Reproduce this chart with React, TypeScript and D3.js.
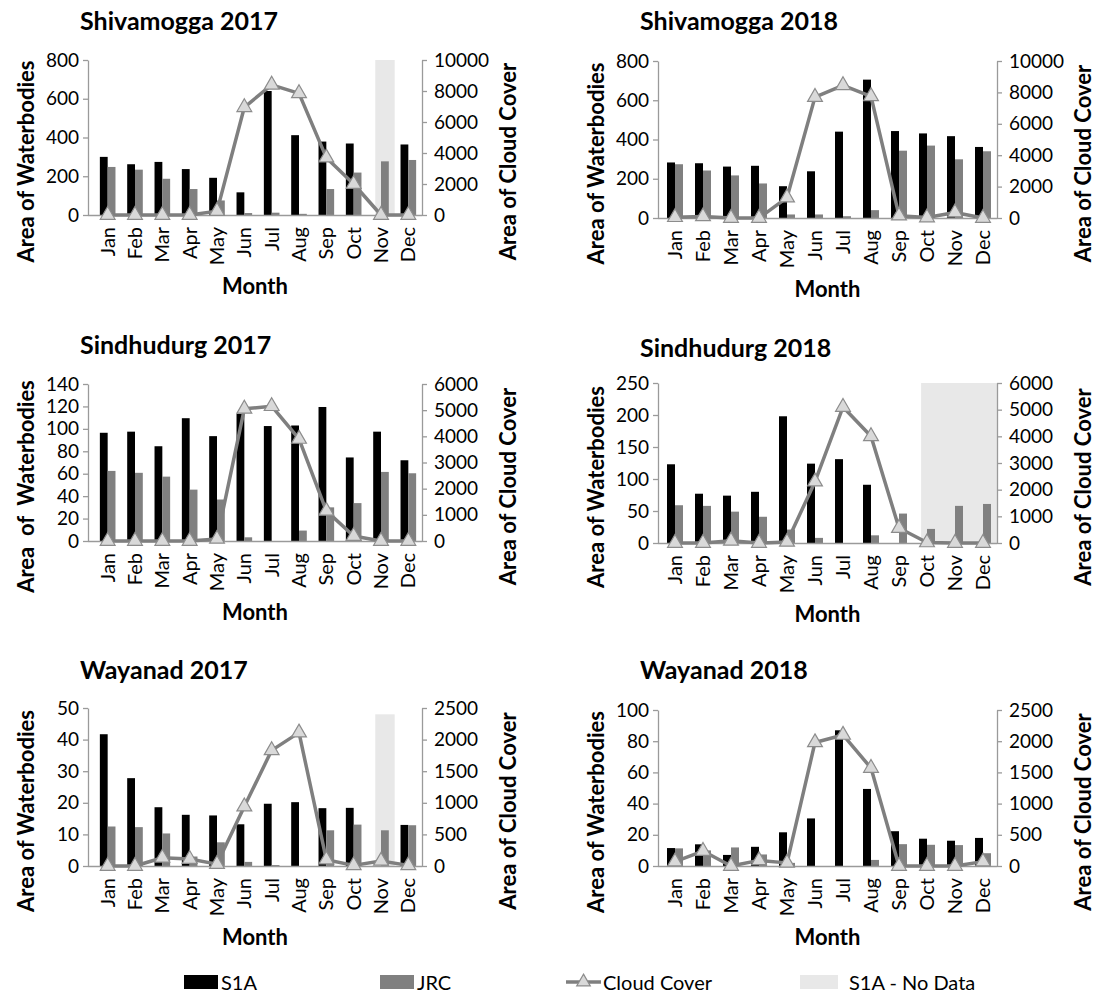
import React, { useEffect, useRef } from "react";
import * as d3 from "d3";

const MONTHS = ["Jan", "Feb", "Mar", "Apr", "May", "Jun", "Jul", "Aug", "Sep", "Oct", "Nov", "Dec"];

// Shivamogga 2017
const SHIV17_S1A = [300, 262, 274, 237, 192, 117, 640, 412, 379, 369, null, 364];
const SHIV17_JRC = [248, 234, 187, 134, 75, 10, 12, 6, 134, 219, 277, 284];
const SHIV17_CLOUD = [0, 0, 0, 0, 250, 6950, 8400, 7850, 3700, 2000, 0, 0];
const SHIV17_NODATA = ["Nov"];

// Shivamogga 2018
const SHIV18_S1A = [283, 279, 262, 266, 162, 238, 440, 705, 443, 431, 417, 362];
const SHIV18_JRC = [274, 242, 217, 176, 18, 18, 9, 40, 343, 369, 299, 340];
const SHIV18_CLOUD = [50, 100, 0, 0, 1300, 7700, 8450, 7750, 150, 30, 350, 0];

// Sindhudurg 2017
const SIND17_S1A = [96.5, 97.5, 84.5, 109.5, 93.5, 113.5, 102.5, 103, 119.5, 74.5, 97.5, 72];
const SIND17_JRC = [62.5, 60.8, 57.4, 45.8, 37, 3.3, 0, 9.3, 30, 33.8, 61.6, 60.4];
const SIND17_CLOUD = [0, 0, 0, 0, 80, 5050, 5150, 3900, 1150, 190, 0, 0];

// Sindhudurg 2018
const SIND18_S1A = [123, 77, 74, 80, 198, 124, 131, 91, null, null, null, null];
const SIND18_JRC = [59, 58, 49, 41, 21, 8, 0, 12, 46, 22, 58, 61];
const SIND18_CLOUD = [0, 0, 80, 0, 40, 2300, 5100, 4000, 560, 20, 0, 0];
const SIND18_NODATA = ["Oct", "Nov", "Dec"];

// Wayanad 2017
const WAY17_S1A = [41.7, 27.8, 18.6, 16.2, 16, 13.2, 19.7, 20.2, 18.3, 18.4, null, 13];
const WAY17_JRC = [12.5, 12.3, 10.3, 3, 7.5, 1.3, 0.3, 0, 11.3, 13.1, 11.3, 12.9];
const WAY17_CLOUD = [0, 0, 130, 110, 30, 940, 1830, 2110, 100, 10, 80, 10];
const WAY17_NODATA = ["Nov"];

// Wayanad 2018
const WAY18_S1A = [11.5, 13.9, 7.1, 12.3, 21.6, 30.5, 87, 49.4, 22.3, 17.5, 16.2, 18];
const WAY18_JRC = [11.3, 10, 11.9, 7.4, 2, 0, 0, 3.9, 14, 13.6, 13.4, 8.2];
const WAY18_CLOUD = [70, 240, 0, 90, 50, 1980, 2100, 1570, 0, 0, 0, 70];

const SHIV_LEFT_TICKS = [0, 200, 400, 600, 800];
const SHIV_RIGHT_TICKS = [0, 2000, 4000, 6000, 8000, 10000];
const SIND17_LEFT_TICKS = [0, 20, 40, 60, 80, 100, 120, 140];
const SIND18_LEFT_TICKS = [0, 50, 100, 150, 200, 250];
const SIND_RIGHT_TICKS = [0, 1000, 2000, 3000, 4000, 5000, 6000];
const WAY17_LEFT_TICKS = [0, 10, 20, 30, 40, 50];
const WAY18_LEFT_TICKS = [0, 20, 40, 60, 80, 100];
const WAY_RIGHT_TICKS = [0, 500, 1000, 1500, 2000, 2500];

const FONT = "Lato, 'Open Sans', sans-serif";
const AXIS_GREY = "#9a9a9a";

const COLS = [
  { axisL: 88, axisR: 422, padL: 6, titleX: 80 },
  { axisL: 658, axisR: 997, padL: 3, titleX: 640 },
];

const PANELS = [
  { title: "Shivamogga 2017", s1a: SHIV17_S1A, jrc: SHIV17_JRC, cloud: SHIV17_CLOUD, left: SHIV_LEFT_TICKS, right: SHIV_RIGHT_TICKS, noData: SHIV17_NODATA, noDataTop: 10000, yTitle: "Area of Waterbodies", col: 0, top: 60, bottom: 215, titleY: 20 },
  { title: "Shivamogga 2018", s1a: SHIV18_S1A, jrc: SHIV18_JRC, cloud: SHIV18_CLOUD, left: SHIV_LEFT_TICKS, right: SHIV_RIGHT_TICKS, noData: [], noDataTop: 0, yTitle: "Area of Waterbodies", col: 1, top: 61, bottom: 218, titleY: 20 },
  { title: "Sindhudurg 2017", s1a: SIND17_S1A, jrc: SIND17_JRC, cloud: SIND17_CLOUD, left: SIND17_LEFT_TICKS, right: SIND_RIGHT_TICKS, noData: [], noDataTop: 0, yTitle: "Area  of  Waterbodies", col: 0, top: 384, bottom: 541, titleY: 344 },
  { title: "Sindhudurg 2018", s1a: SIND18_S1A, jrc: SIND18_JRC, cloud: SIND18_CLOUD, left: SIND18_LEFT_TICKS, right: SIND_RIGHT_TICKS, noData: SIND18_NODATA, noDataTop: 6000, yTitle: "Area of Waterbodies", col: 1, top: 383, bottom: 543, titleY: 347 },
  { title: "Wayanad 2017", s1a: WAY17_S1A, jrc: WAY17_JRC, cloud: WAY17_CLOUD, left: WAY17_LEFT_TICKS, right: WAY_RIGHT_TICKS, noData: WAY17_NODATA, noDataTop: 2400, yTitle: "Area of Waterbodies", col: 0, top: 708, bottom: 866, titleY: 669 },
  { title: "Wayanad 2018", s1a: WAY18_S1A, jrc: WAY18_JRC, cloud: WAY18_CLOUD, left: WAY18_LEFT_TICKS, right: WAY_RIGHT_TICKS, noData: [], noDataTop: 0, yTitle: "Area of Waterbodies", col: 1, top: 710, bottom: 866, titleY: 669 },
];

function styleAxis(ax: any) {
  ax.select(".domain").attr("stroke", AXIS_GREY).attr("stroke-width", 1.3);
  ax.selectAll(".tick line").attr("stroke", AXIS_GREY).attr("stroke-width", 1.3);
  ax.selectAll(".tick text").attr("fill", "#000").style("font-size", "19px").style("font-family", FONT);
}

function drawPanel(svg: any, p: any) {
  const col = COLS[p.col];
  const g = svg.append("g");

  const x = d3.scaleBand<string>().domain(MONTHS).range([col.axisL + col.padL, col.axisR]);
  const step = x.bandwidth();
  const bw = step / 3.5;
  const cx = (m: string) => (x(m) as number) + step / 2;

  const yL = d3.scaleLinear().domain([0, d3.max(p.left) as number]).range([p.bottom, p.top]);
  const yR = d3.scaleLinear().domain([0, d3.max(p.right) as number]).range([p.bottom, p.top]);

  // S1A - No Data shading
  if (p.noData.length) {
    const x0 = cx(p.noData[0]) - 0.21 * step;
    const x1 = cx(p.noData[p.noData.length - 1]) + 0.5 * step;
    g.append("rect")
      .attr("x", x0)
      .attr("width", x1 - x0)
      .attr("y", yR(p.noDataTop))
      .attr("height", p.bottom - yR(p.noDataTop))
      .attr("fill", "#e8e8e8");
  }

  const rows = MONTHS.map((m, i) => ({ m, s1a: p.s1a[i], jrc: p.jrc[i] }));

  g.selectAll(".s1a")
    .data(rows.filter((d) => d.s1a != null))
    .join("rect")
    .attr("x", (d: any) => cx(d.m) - bw)
    .attr("width", bw)
    .attr("y", (d: any) => yL(d.s1a))
    .attr("height", (d: any) => p.bottom - yL(d.s1a))
    .attr("fill", "#000");

  g.selectAll(".jrc")
    .data(rows)
    .join("rect")
    .attr("x", (d: any) => cx(d.m))
    .attr("width", bw)
    .attr("y", (d: any) => yL(d.jrc))
    .attr("height", (d: any) => p.bottom - yL(d.jrc))
    .attr("fill", "#808080");

  // axes
  const axL = g.append("g")
    .attr("transform", `translate(${col.axisL},0)`)
    .call(d3.axisLeft(yL).tickValues(p.left).tickFormat(d3.format("d")).tickSize(5).tickSizeOuter(0).tickPadding(4));
  styleAxis(axL);

  const axR = g.append("g")
    .attr("transform", `translate(${col.axisR},0)`)
    .call(d3.axisRight(yR).tickValues(p.right).tickFormat(d3.format("d")).tickSize(5).tickSizeOuter(0).tickPadding(7));
  styleAxis(axR);

  g.append("line")
    .attr("x1", col.axisL)
    .attr("x2", col.axisR)
    .attr("y1", p.bottom + 0.5)
    .attr("y2", p.bottom + 0.5)
    .attr("stroke", AXIS_GREY)
    .attr("stroke-width", 1.3);

  g.selectAll(".mlab")
    .data(MONTHS)
    .join("text")
    .attr("transform", (m: string) => `translate(${cx(m)},${p.bottom + 12}) rotate(-90)`)
    .attr("text-anchor", "end")
    .attr("dy", "0.35em")
    .style("font-family", FONT)
    .style("font-size", "20px")
    .text((m: string) => m);

  // cloud cover line
  const line = d3.line<number>()
    .x((d, i) => cx(MONTHS[i]))
    .y((d) => yR(d));

  g.append("path")
    .datum(p.cloud)
    .attr("d", line)
    .attr("fill", "none")
    .attr("stroke", "#7f7f7f")
    .attr("stroke-width", 3.5)
    .attr("stroke-linejoin", "round");

  g.selectAll(".tri")
    .data(p.cloud)
    .join("path")
    .attr("d", d3.symbol(d3.symbolTriangle, 95))
    .attr("transform", (d: number, i: number) => `translate(${cx(MONTHS[i])},${yR(d)})`)
    .attr("fill", "#d9d9d9")
    .attr("stroke", "#8c8c8c")
    .attr("stroke-width", 1.2);

  // titles
  g.append("text")
    .attr("x", col.titleX)
    .attr("y", p.titleY)
    .attr("dominant-baseline", "central")
    .style("font-family", FONT)
    .style("font-size", "25px")
    .style("font-weight", "bold")
    .text(p.title);

  const midY = (p.top + p.bottom) / 2 + 24;
  g.append("text")
    .attr("transform", `translate(${col.axisL - 63},${midY}) rotate(-90)`)
    .attr("text-anchor", "middle")
    .attr("dominant-baseline", "central")
    .style("white-space", "pre")
    .style("font-family", FONT)
    .style("font-size", "22px")
    .style("font-weight", "bold")
    .text(p.yTitle);

  g.append("text")
    .attr("transform", `translate(${col.axisR + 85},${midY}) rotate(-90)`)
    .attr("text-anchor", "middle")
    .attr("dominant-baseline", "central")
    .style("font-family", FONT)
    .style("font-size", "22px")
    .style("font-weight", "bold")
    .text("Area of Cloud Cover");

  g.append("text")
    .attr("x", (col.axisL + col.axisR) / 2)
    .attr("y", p.bottom + 70)
    .attr("text-anchor", "middle")
    .attr("dominant-baseline", "central")
    .style("font-family", FONT)
    .style("font-size", "22px")
    .style("font-weight", "bold")
    .text("Month");
}

function drawLegend(svg: any) {
  const g = svg.append("g").style("font-family", FONT).style("font-size", "20px");
  const y = 982;

  g.append("rect").attr("x", 184).attr("y", y - 7).attr("width", 34).attr("height", 14).attr("fill", "#000");
  g.append("text").attr("x", 221).attr("y", y).attr("dominant-baseline", "central").text("S1A");

  g.append("rect").attr("x", 380).attr("y", y - 7).attr("width", 34).attr("height", 14).attr("fill", "#808080");
  g.append("text").attr("x", 417).attr("y", y).attr("dominant-baseline", "central").text("JRC");

  g.append("line").attr("x1", 566).attr("x2", 601).attr("y1", y).attr("y2", y)
    .attr("stroke", "#7f7f7f").attr("stroke-width", 3.5);
  g.append("path").attr("d", d3.symbol(d3.symbolTriangle, 80))
    .attr("transform", `translate(583.5,${y})`)
    .attr("fill", "#d9d9d9").attr("stroke", "#8c8c8c").attr("stroke-width", 1.2);
  g.append("text").attr("x", 603).attr("y", y).attr("dominant-baseline", "central").text("Cloud Cover");

  g.append("rect").attr("x", 800).attr("y", y - 7).attr("width", 38).attr("height", 14).attr("fill", "#e8e8e8");
  g.append("text").attr("x", 849).attr("y", y).attr("dominant-baseline", "central").text("S1A - No Data");
}

const App = () => {
  const svgRef = useRef<SVGSVGElement>(null);

  useEffect(() => {
    const svg = d3.select(svgRef.current);
    svg.selectAll("*").remove();
    PANELS.forEach((p) => drawPanel(svg, p));
    drawLegend(svg);
  }, []);

  return (
    <svg
      ref={svgRef}
      width={1108}
      height={995}
      style={{ position: "absolute", left: 0, top: 0, background: "#fff" }}
    ></svg>
  );
};

export default App;
